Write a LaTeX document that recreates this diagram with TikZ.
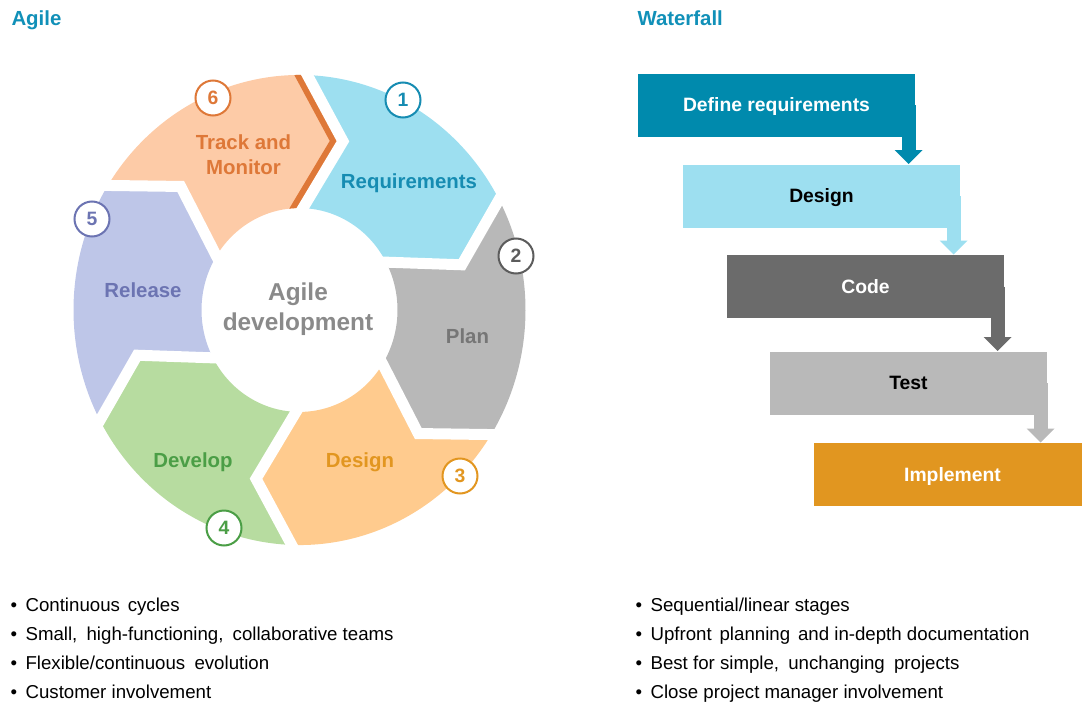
\documentclass[tikz,border=0pt]{standalone}
\usepackage{fontspec}
\setmainfont{Liberation Sans}
\usetikzlibrary{arrows.meta}

\definecolor{headteal}{RGB}{17,144,184}
\definecolor{reqfill}{RGB}{157,223,240}
\definecolor{reqtext}{RGB}{22,140,178}
\definecolor{planfill}{RGB}{184,184,184}
\definecolor{plantext}{RGB}{118,118,118}
\definecolor{numgray}{RGB}{92,92,92}
\definecolor{designfill}{RGB}{255,203,142}
\definecolor{designtext}{RGB}{226,150,32}
\definecolor{devfill}{RGB}{183,220,160}
\definecolor{devtext}{RGB}{75,158,70}
\definecolor{relfill}{RGB}{190,198,232}
\definecolor{reltext}{RGB}{108,116,178}
\definecolor{trackfill}{RGB}{253,203,167}
\definecolor{tracktext}{RGB}{222,120,56}
\definecolor{centretext}{RGB}{138,138,138}
\definecolor{wfdefine}{RGB}{0,138,173}
\definecolor{wfdesign}{RGB}{157,223,240}
\definecolor{wfcode}{RGB}{107,107,107}
\definecolor{wftest}{RGB}{185,185,185}
\definecolor{wfimpl}{RGB}{225,150,32}

\tikzset{every picture/.style={line width=0.75pt}}
\tikzset{
  heading/.style={anchor=base west, inner sep=0, text=headteal, font=\fontsize{15.3pt}{18pt}\selectfont\bfseries},
  seglabel/.style={anchor=base, inner sep=0, align=center, font=\fontsize{15.3pt}{18.75pt}\selectfont\bfseries},
  centre/.style={inner sep=0, align=center, text=centretext, font=\fontsize{18.3pt}{22.5pt}\selectfont\bfseries},
  stepno/.style={circle, draw, fill=white, line width=1.5pt, minimum size=26.25pt, inner sep=0, font=\fontsize{14.5pt}{16pt}\selectfont\bfseries},
  gap/.style={draw=white, line width=8.25pt, shorten <=-6pt, shorten >=-6pt},
  wfbox/.style={minimum width=208pt, minimum height=47.25pt, inner sep=0, text height=10.4pt, text depth=0pt, font=\fontsize{14.5pt}{17pt}\selectfont\bfseries},
  wfarrow/.style={line width=10.5pt, -{Triangle[length=10.5pt,width=21pt,line width=0pt]}},
  note/.style={anchor=base west, inner sep=0, font=\fontsize{14pt}{16pt}\selectfont},
}

\begin{document}
\begin{tikzpicture}[x=0.75pt,y=0.75pt,yscale=-1,xscale=1]
\useasboundingbox (0,0) rectangle (1082,703);

% Text Node
\node [heading] (agilehead) at (11,26) {Agile};
% Text Node
\node [heading] (wfhead) at (637,26) {Waterfall};

%Shape: Agile cycle, six chevron segments
\begin{scope}[shift={(299.5,310)}, yscale=-1.04]
% Requirements
\fill [reqfill] (88:226) arc [start angle=88, end angle=28, radius=226] -- (15:168) -- (28:98) arc [start angle=28, end angle=88, radius=98] -- (75:168) -- cycle ;
% Plan
\fill [planfill] (28:226) arc [start angle=28, end angle=-32, radius=226] -- (-45:168) -- (-32:98) arc [start angle=-32, end angle=28, radius=98] -- (15:168) -- cycle ;
% Design
\fill [designfill] (-32:226) arc [start angle=-32, end angle=-92, radius=226] -- (-105:168) -- (-92:98) arc [start angle=-92, end angle=-32, radius=98] -- (-45:168) -- cycle ;
% Develop
\fill [devfill] (-92:226) arc [start angle=-92, end angle=-152, radius=226] -- (-165:168) -- (-152:98) arc [start angle=-152, end angle=-92, radius=98] -- (-105:168) -- cycle ;
% Release
\fill [relfill] (208:226) arc [start angle=208, end angle=148, radius=226] -- (135:168) -- (148:98) arc [start angle=148, end angle=208, radius=98] -- (195:168) -- cycle ;
% Track and Monitor
\fill [trackfill] (148:226) arc [start angle=148, end angle=88, radius=226] -- (75:168) -- (88:98) arc [start angle=88, end angle=148, radius=98] -- (135:168) -- cycle ;

% dark edge on the tip of Track and Monitor
\begin{scope}
\clip (148:226) arc [start angle=148, end angle=88, radius=226] -- (75:168) -- (88:98) arc [start angle=88, end angle=148, radius=98] -- (135:168) -- cycle ;
\draw [tracktext, line width=17.25pt, shorten <=-8pt, shorten >=-8pt] (88:226) -- (75:168) -- (88:98) ;
\end{scope}

% white gaps between the segments
\draw [gap] (88:226) -- (75:168) -- (88:98) ;
\draw [gap] (28:226) -- (15:168) -- (28:98) ;
\draw [gap] (-32:226) -- (-45:168) -- (-32:98) ;
\draw [gap] (-92:226) -- (-105:168) -- (-92:98) ;
\draw [gap] (-152:226) -- (-165:168) -- (-152:98) ;
\draw [gap] (148:226) -- (135:168) -- (148:98) ;
\end{scope}

% Text Node
\node [seglabel, text=reqtext] (req) at (409,188) {Requirements};
% Text Node
\node [seglabel, text=plantext] (plan) at (467.5,343) {Plan};
% Text Node
\node [seglabel, text=designtext] (design) at (360,467) {Design};
% Text Node
\node [seglabel, text=devtext] (develop) at (193,467) {Develop};
% Text Node
\node [seglabel, text=reltext] (release) at (143,297) {Release};
% Text Node
\node [seglabel, anchor=center, text=tracktext] (track) at (243.5,155) {Track and\\Monitor};
% Text Node
\node [centre] (agiledev) at (298,309) {Agile\\development};

% Step numbers
\node [stepno, draw=reqtext, text=reqtext] (no1) at (403,100) {1};
\node [stepno, draw=numgray, text=numgray] (no2) at (516,256) {2};
\node [stepno, draw=designtext, text=designtext] (no3) at (460,476) {3};
\node [stepno, draw=devtext, text=devtext] (no4) at (224,528) {4};
\node [stepno, draw=reltext, text=reltext] (no5) at (92,219) {5};
\node [stepno, draw=tracktext, text=tracktext] (no6) at (213,98) {6};

%Shape: Waterfall steps
\node [wfbox, fill=wfdefine, text=white] (define) at (776.5,105) {Define requirements};
\node [wfbox, fill=wfdesign, text=black] (wdesign) at (821.5,196) {Design};
\node [wfbox, fill=wfcode, text=white] (code) at (865.5,286.5) {Code};
\node [wfbox, fill=wftest, text=black] (test) at (908.5,383) {Test};
\node [wfbox, fill=wfimpl, text=white, minimum width=201pt] (implement) at (948,474.5) {\hspace{6.75pt}Implement};

% step arrows
\draw [wfarrow, draw=wfdefine] ([xshift=-5.25pt]define.east) -- ([xshift=-5.25pt]define.east |- wdesign.north) ;
\draw [wfarrow, draw=wfdesign] ([xshift=-5.25pt]wdesign.east) -- ([xshift=-5.25pt]wdesign.east |- code.north) ;
\draw [wfarrow, draw=wfcode] ([xshift=-5.25pt]code.east) -- ([xshift=-5.25pt]code.east |- test.north) ;
\draw [wfarrow, draw=wftest] ([xshift=-5.25pt]test.east) -- ([xshift=-5.25pt]test.east |- implement.north) ;

% Text Node
\node [note] (agile1) at (10,611) {\textbullet\hspace{6.4pt}Continuous\hspace{2pt} cycles};
\node [note] (agile2) at (10,640) {\textbullet\hspace{6.4pt}Small,\hspace{3pt} high-functioning,\hspace{3pt} collaborative teams};
\node [note] (agile3) at (10,669) {\textbullet\hspace{6.4pt}Flexible/continuous\hspace{3pt} evolution};
\node [note] (agile4) at (10,698) {\textbullet\hspace{6.4pt}Customer involvement};
% Text Node
\node [note] (wf1) at (635,611) {\textbullet\hspace{6.4pt}Sequential/linear stages};
\node [note] (wf2) at (635,640) {\textbullet\hspace{6.4pt}Upfront\hspace{2pt} planning\hspace{2pt} and in-depth documentation};
\node [note] (wf3) at (635,669) {\textbullet\hspace{6.4pt}Best for simple,\hspace{3pt} unchanging\hspace{3pt} projects};
\node [note] (wf4) at (635,698) {\textbullet\hspace{6.4pt}Close project manager involvement};

\end{tikzpicture}
\end{document}
